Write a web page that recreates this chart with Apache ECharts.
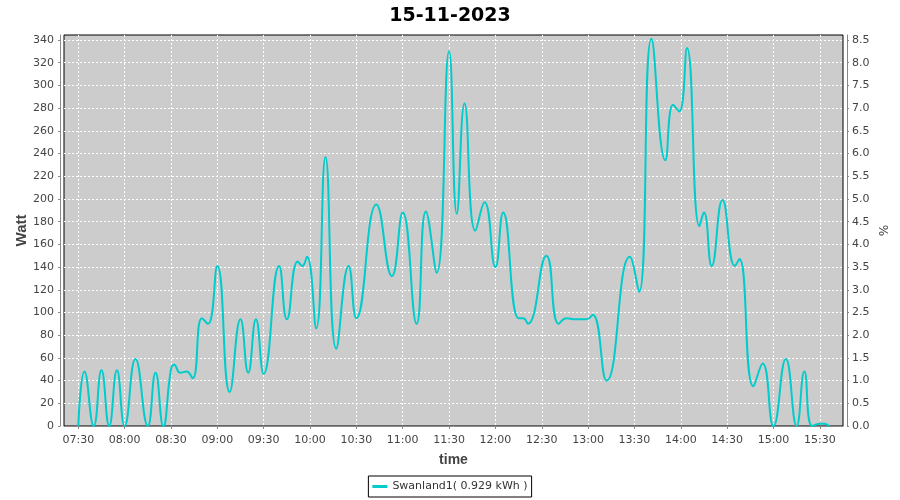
<!DOCTYPE html>
<html><head><meta charset="utf-8">
<script src="https://cdn.jsdelivr.net/npm/echarts@6/dist/echarts.min.js"></script>
<style>html,body{margin:0;padding:0;background:#fff}#c{width:900px;height:500px}</style>
</head><body><div id="c"></div>
<script>
const chartTitle = '15-11-2023';
const seriesName = 'Swanland1( 0.929 kWh )';
const times = ['07:30','07:34','07:40','07:45','07:50','07:55','08:00','08:07','08:15','08:20','08:25','08:30','08:32','08:36','08:40','08:44','08:50','08:54','09:00','09:08','09:15','09:20','09:25','09:30','09:40','09:45','09:52','09:55','09:58','10:04','10:10','10:17','10:25','10:30','10:43','10:53','11:00','11:09','11:15','11:22','11:30','11:35','11:40','11:47','11:53','12:00','12:05','12:15','12:18','12:21','12:33','12:41','12:46','12:52','12:59','13:03','13:12','13:27','13:33','13:41','13:50','13:55','13:59','14:04','14:12','14:15','14:20','14:27','14:35','14:38','14:47','14:53','15:00','15:08','15:15','15:20','15:25','15:30','15:33','15:36'];
const watts = [0,48,0,49,0,49,0,59,0,47,0,50,54,47,48,42,95,90,141,30,94,47,94,46,141,94,145,141,149,86,237,68,141,95,195,132,188,90,189,135,330,187,284,172,197,140,188,95,95,90,150,90,95,94,94,98,40,149,118,341,234,283,277,333,176,188,141,199,141,147,35,55,0,59,0,48,0,2,2,0];
const xTickLabels = ['07:30','08:00','08:30','09:00','09:30','10:00','10:30','11:00','11:30','12:00','12:30','13:00','13:30','14:00','14:30','15:00','15:30'];
const wattTicks = [0,20,40,60,80,100,120,140,160,180,200,220,240,260,280,300,320,340];
const pctTicks = [0,0.5,1,1.5,2,2.5,3,3.5,4,4.5,5,5.5,6,6.5,7,7.5,8,8.5];

function toMin(s){const p=s.split(':').map(Number);return p[0]*60+p[1];}
function fmt(m){const h=Math.floor(m/60),mm=Math.round(m%60);return String(h).padStart(2,'0')+':'+String(mm).padStart(2,'0');}
const data = times.map((t,i)=>[toMin(t),watts[i]]);
const xMin = 7*60+20.75, xMax = 15*60+45;
const wMax = 344.4, pMax = wMax/40;
const tickFont = {color:'#444',fontFamily:'DejaVu Sans',fontSize:11};
const axisGray = '#888';
const split = {show:true,lineStyle:{color:'#fff',type:[2,2],width:1}};

const chart = echarts.init(document.getElementById('c'),null,{renderer:'canvas'});
chart.setOption({
  animation:false,
  backgroundColor:'#fff',
  title:{text:chartTitle,left:'center',top:2,textStyle:{fontFamily:'DejaVu Sans',fontWeight:'bold',fontSize:19,color:'#000'}},
  grid:{left:64,right:57,top:35,bottom:74,show:true,backgroundColor:'#cccccc',borderColor:'#000',borderWidth:1},
  legend:{data:[seriesName],left:'center',top:476,icon:'rect',itemWidth:15,itemHeight:3,itemGap:5,padding:[5,4,5,4],borderColor:'#000',borderWidth:1,
    textStyle:{fontFamily:'DejaVu Sans',fontSize:11,color:'#333'}},
  xAxis:{type:'value',min:xMin,max:xMax,offset:4,
    name:'time',nameLocation:'middle',nameGap:23,nameMoveOverlap:false,nameTextStyle:{fontFamily:'Liberation Sans',fontWeight:'bold',fontSize:14,color:'#444'},
    axisLine:{show:true,lineStyle:{color:axisGray}},
    axisTick:{show:true,length:3,customValues:xTickLabels.map(toMin),lineStyle:{color:axisGray}},
    axisLabel:Object.assign({customValues:xTickLabels.map(toMin),margin:5,formatter:v=>fmt(v)},tickFont),
    splitLine:split},
  yAxis:[
    {type:'value',min:0,max:wMax,offset:4,position:'left',
     name:'Watt',nameLocation:'middle',nameGap:31,nameMoveOverlap:false,nameTextStyle:{fontFamily:'Liberation Sans',fontWeight:'bold',fontSize:15,color:'#444'},
     axisLine:{show:true,lineStyle:{color:axisGray}},
     axisTick:{show:true,length:2,customValues:wattTicks,lineStyle:{color:axisGray}},
     axisLabel:Object.assign({customValues:wattTicks,margin:6},tickFont),
     splitLine:split},
    {type:'value',min:0,max:pMax,offset:4,position:'right',
     name:'%',nameLocation:'middle',nameGap:29,nameMoveOverlap:false,nameRotate:-90,nameTextStyle:{fontFamily:'DejaVu Sans',fontSize:12,color:'#444'},
     axisLine:{show:true,lineStyle:{color:axisGray}},
     axisTick:{show:true,length:2,customValues:pctTicks,lineStyle:{color:axisGray}},
     axisLabel:Object.assign({customValues:pctTicks,margin:5,formatter:v=>v.toFixed(1)},tickFont),
     splitLine:{show:false}}
  ],
  series:[{name:seriesName,type:'line',yAxisIndex:0,data:data,smooth:0.5,showSymbol:false,
    lineStyle:{color:'#00cccc',width:2},itemStyle:{color:'#00cccc'}}]
});
</script></body></html>
